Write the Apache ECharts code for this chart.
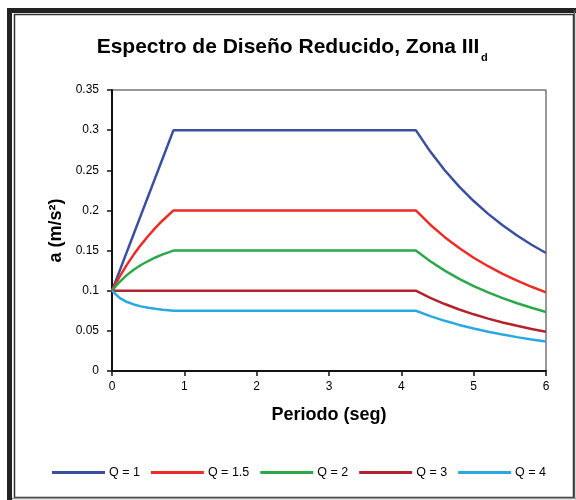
<!DOCTYPE html>
<html><head><meta charset="utf-8">
<script src="https://cdn.jsdelivr.net/npm/echarts@6/dist/echarts.min.js"></script>
<style>html,body{margin:0;padding:0;background:#fff}#c{width:576px;height:500px}</style>
</head><body><div id="c"></div>
<script>
const periods = [0, 0.1, 0.2, 0.3, 0.4, 0.5, 0.6, 0.7, 0.85, 4.2, 4.4, 4.6, 4.8, 5.0, 5.2, 5.4, 5.6, 5.8, 6.0];
const seriesNames = ['Q = 1', 'Q = 1.5', 'Q = 2', 'Q = 3', 'Q = 4'];
const q1  = [0.1, 0.1235, 0.1471, 0.1706, 0.1941, 0.2176, 0.2412, 0.2647, 0.3, 0.3, 0.2733, 0.2501, 0.2297, 0.2117, 0.1957, 0.1815, 0.1688, 0.1573, 0.147];
const q15 = [0.1, 0.1167, 0.1316, 0.1450, 0.1571, 0.1682, 0.1783, 0.1875, 0.2, 0.2, 0.1822, 0.1667, 0.1531, 0.1411, 0.1305, 0.1210, 0.1125, 0.1049, 0.098];
const q2  = [0.1, 0.1105, 0.1191, 0.1261, 0.1320, 0.1370, 0.1414, 0.1452, 0.15, 0.15, 0.1367, 0.1250, 0.1148, 0.1058, 0.0979, 0.0907, 0.0844, 0.0787, 0.0735];
const q3  = [0.1, 0.1, 0.1, 0.1, 0.1, 0.1, 0.1, 0.1, 0.1, 0.1, 0.0911, 0.0834, 0.0766, 0.0706, 0.0652, 0.0605, 0.0563, 0.0524, 0.049];
const q4  = [0.1, 0.0913, 0.0862, 0.0829, 0.0805, 0.0787, 0.0774, 0.0763, 0.075, 0.075, 0.0683, 0.0625, 0.0574, 0.0529, 0.0489, 0.0454, 0.0422, 0.0393, 0.0368];
const colors = ['#3A4FA0', '#EE2B25', '#2BA84A', '#B2232B', '#2AA9E1'];

const allValues = [q1, q15, q2, q3, q4];
const chart = echarts.init(document.getElementById('c'), null, {renderer: 'canvas'});
const font = 'Arial, "Liberation Sans", sans-serif';
chart.setOption({
  animation: false,
  backgroundColor: '#fff',
  textStyle: {fontFamily: font},
  title: [
    {
      text: 'Espectro de Diseño Reducido, Zona III',
      left: 288, top: 37, textAlign: 'center', padding: 0,
      textStyle: {fontSize: 21, fontWeight: 'bold', color: '#000', fontFamily: font}
    },
    {
      text: 'd',
      left: 481, top: 52, padding: 0,
      textStyle: {fontSize: 11, fontWeight: 'bold', color: '#000', fontFamily: font}
    }
  ],
  graphic: [
    {type: 'rect', shape: {x: 9.5, y: 10.5, width: 600, height: 600}, style: {fill: null, stroke: '#222', lineWidth: 5}, silent: true},
    {type: 'rect', shape: {x: 14.5, y: 14.5, width: 559, height: 483}, style: {fill: null, stroke: '#333', lineWidth: 1.5}, silent: true},
    {type: 'line', shape: {x1: 574.5, y1: 10, x2: 574.5, y2: 499}, style: {stroke: '#555', lineWidth: 1.5}, silent: true},
    {type: 'line', shape: {x1: 12, y1: 498.5, x2: 576, y2: 498.5}, style: {stroke: '#999', lineWidth: 1.5}, silent: true}
  ],
  legend: {
    data: seriesNames,
    bottom: 16, left: 47,
    itemWidth: 53, itemHeight: 3, itemGap: 11,
    icon: 'rect',
    textStyle: {fontSize: 12.5, color: '#000', fontFamily: font, padding: [0, 0, 0, -1]}
  },
  grid: {left: 112, top: 90, width: 434, height: 281, show: true, borderColor: '#333', borderWidth: 1},
  xAxis: {
    type: 'value', min: 0, max: 6, interval: 1,
    name: 'Periodo (seg)', nameLocation: 'middle', nameGap: 35,
    nameTextStyle: {fontSize: 18, fontWeight: 'bold', color: '#000', fontFamily: font},
    axisLine: {lineStyle: {color: '#111', width: 2}},
    axisTick: {inside: false, length: 5, lineStyle: {color: '#111', width: 1.5}},
    axisLabel: {fontSize: 12, color: '#000', margin: 10},
    splitLine: {show: false}
  },
  yAxis: {
    type: 'value', min: 0, max: 0.35, interval: 0.05,
    name: 'a (m/s²)', nameLocation: 'middle', nameGap: 47, nameRotate: 90,
    nameTextStyle: {fontSize: 18, fontWeight: 'bold', color: '#000', fontFamily: font},
    axisLine: {show: true, lineStyle: {color: '#111', width: 2}},
    axisTick: {show: true, inside: false, length: 5, lineStyle: {color: '#111', width: 1.5}},
    axisLabel: {fontSize: 12, color: '#000', margin: 13, formatter: v => String(+v.toFixed(2))},
    splitLine: {show: false}
  },
  series: seriesNames.map((n, i) => ({
    name: n, type: 'line', showSymbol: false, symbol: 'none', smooth: false,
    color: colors[i],
    lineStyle: {width: 2.5, color: colors[i]},
    data: periods.map((t, k) => [t, allValues[i][k]])
  }))
});
</script></body></html>
